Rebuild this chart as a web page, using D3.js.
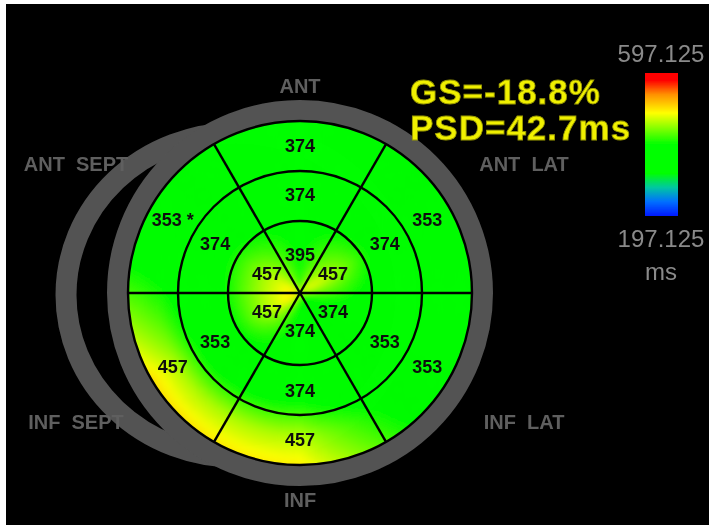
<!DOCTYPE html>
<html>
<head>
<meta charset="utf-8">
<script src="https://cdn.jsdelivr.net/npm/d3@7"></script>
<style>
body { margin: 0; background: #fff; }
svg { display: block; }
</style>
</head>
<body>
<svg id="vis"></svg>
<script>
// bullseye values in ms, sectors clockwise starting at ANT (top)
var sectors = ["ANT", "ANT  LAT", "INF  LAT", "INF", "INF  SEPT", "ANT  SEPT"];
var basal  = [374, 353, 353, 457, 457, 353];
var mid    = [374, 374, 353, 374, 353, 374];
var apical = [395, 457, 374, 374, 457, 457];
var basalMark = ["", "", "", "", "", " *"];

var scaleMin = 197.125, scaleMax = 597.125;
var scaleLabels = ["597.125", "197.125", "ms"];
var stats = ["GS=-18.8%", "PSD=42.7ms"];

var width = 709, height = 525;
var cx = 300, cy = 293;
var rInner = 72, rMid = 122, rOuter = 172;
var ringCenters = [38, 97, 142];       // where each ring's value sits (radius)
var labelRadius = [38, 98, 147];
var rings = [apical, mid, basal];

// colour map (fraction from bottom -> colour)
var cmapT = [0, 0.1, 0.2, 0.3, 0.5, 0.72, 0.85, 0.95, 1];
var cmapC = ["#0018ff", "#0070ff", "#00c8a0", "#00ff00", "#00ff00", "#ffff00", "#ff9000", "#ff0000", "#ff0000"];
var color = d3.scaleLinear()
    .domain(cmapT.map(function(t){ return scaleMin + t * (scaleMax - scaleMin); }))
    .range(cmapC)
    .interpolate(d3.interpolateRgb)
    .clamp(true);

const svg = d3.select("#vis").attr("width", width).attr("height", height);
var defs = svg.append("defs");

defs.append("filter").attr("id", "soft").attr("x", "-10%").attr("y", "-10%").attr("width", "120%").attr("height", "120%")
    .append("feGaussianBlur").attr("stdDeviation", 0.7);
defs.append("filter").attr("id", "smooth").attr("x", "-10%").attr("y", "-10%").attr("width", "120%").attr("height", "120%")
    .append("feGaussianBlur").attr("stdDeviation", 3);
defs.append("clipPath").attr("id", "disk")
    .append("circle").attr("cx", cx).attr("cy", cy).attr("r", rOuter);

var grad = defs.append("linearGradient").attr("id", "bar")
    .attr("x1", 0).attr("y1", 1).attr("x2", 0).attr("y2", 0);
cmapT.forEach(function(t, i){
    grad.append("stop").attr("offset", t).attr("stop-color", cmapC[i]);
});

// background (the picture has a thin white margin left and top)
svg.append("rect").attr("x", 6).attr("y", 4).attr("width", width - 6).attr("height", height - 4).attr("fill", "#000");

// grey outlines: back ellipse + front ring
var ringGrey = "#535353";
svg.append("ellipse").attr("cx", 236).attr("cy", cy + 2).attr("rx", 170).attr("ry", 162)
    .attr("fill", "none").attr("stroke", ringGrey).attr("stroke-width", 21).attr("filter", "url(#soft)");
svg.append("circle").attr("cx", cx).attr("cy", cy).attr("r", rOuter + 10.5)
    .attr("fill", "none").attr("stroke", ringGrey).attr("stroke-width", 21).attr("filter", "url(#soft)");

// value along a ring at angle a (deg, 0 = top, clockwise)
function sectorVal(vals, a) {
    var p = (((a % 360) + 360) % 360) / 60;
    var i0 = Math.floor(p), f = p - i0;
    return vals[i0 % 6] * (1 - f) + vals[(i0 + 1) % 6] * f;
}
// blend the rings radially, with a damped spill past the inner/outer ring
function fieldVal(r, a) {
    var v = rings.map(function(vals){ return sectorVal(vals, a); });
    var R = ringCenters, f;
    if (r <= R[0]) return v[0] + 0.8 * (v[0] - v[1]) * (R[0] - r) / (R[1] - R[0]);
    if (r <= R[1]) { f = (r - R[0]) / (R[1] - R[0]); return v[0] * (1 - f) + v[1] * f; }
    if (r <= R[2]) { f = (r - R[1]) / (R[2] - R[1]); return v[1] * (1 - f) + v[2] * f; }
    return v[2] + 0.6 * (v[2] - v[1]) * (r - R[2]) / (R[2] - R[1]);
}

// smooth colour map drawn as small polar cells
var cells = [];
var dr = 3;
for (var r = 0; r < rOuter + 2 * dr; r += dr) {
    var n = Math.max(24, Math.round(2 * Math.PI * (r + dr / 2) / 3));
    for (var k = 0; k < n; k++) {
        var a0 = k * 360 / n, a1 = (k + 1) * 360 / n;
        cells.push({r0: r, r1: r + dr, a0: a0, a1: a1, v: fieldVal(r + dr / 2, (a0 + a1) / 2)});
    }
}
var cellArc = d3.arc()
    .innerRadius(function(d){ return d.r0; })
    .outerRadius(function(d){ return d.r1; })
    .startAngle(function(d){ return d.a0 * Math.PI / 180; })
    .endAngle(function(d){ return d.a1 * Math.PI / 180; });

var field = svg.append("g").attr("clip-path", "url(#disk)")
    .append("g").attr("filter", "url(#smooth)")
    .attr("transform", "translate(" + cx + "," + cy + ")");
field.selectAll("path").data(cells).enter().append("path")
    .attr("d", cellArc)
    .attr("fill", function(d){ return color(d.v); })
    .attr("stroke", function(d){ return color(d.v); })
    .attr("stroke-width", 0.8);

// segment borders
var grid = svg.append("g").attr("transform", "translate(" + cx + "," + cy + ")")
    .attr("filter", "url(#soft)");
grid.selectAll("circle").data([rInner, rMid, rOuter]).enter().append("circle")
    .attr("r", function(d){ return d; })
    .attr("fill", "none").attr("stroke", "#000").attr("stroke-width", 2.4);
grid.selectAll("line").data(d3.range(6)).enter().append("line")
    .attr("x1", 0).attr("y1", 0)
    .attr("x2", function(i){ return rOuter * Math.sin((i * 60 + 30) * Math.PI / 180); })
    .attr("y2", function(i){ return -rOuter * Math.cos((i * 60 + 30) * Math.PI / 180); })
    .attr("stroke", "#000").attr("stroke-width", 2.4);

// segment values
var segLabels = [];
rings.forEach(function(vals, ri){
    vals.forEach(function(v, i){
        segLabels.push({ring: ri, i: i, text: v + (ri === 2 ? basalMark[i] : "")});
    });
});
grid.selectAll("text.seg").data(segLabels).enter().append("text")
    .attr("class", "seg")
    .attr("x", function(d){ return labelRadius[d.ring] * Math.sin(d.i * Math.PI / 3); })
    .attr("y", function(d){ return -labelRadius[d.ring] * Math.cos(d.i * Math.PI / 3); })
    .attr("dy", "0.36em")
    .attr("text-anchor", "middle")
    .style("font-family", "Liberation Sans, Arial, sans-serif")
    .style("font-weight", "bold")
    .style("font-size", "18px")
    .style("fill", "#111")
    .style("white-space", "pre")
    .text(function(d){ return d.text; });

// wall names around the plot
function sgn(x) { return Math.sign(Math.round(x * 100)); }
svg.append("g").attr("filter", "url(#soft)")
    .selectAll("text").data(sectors).enter().append("text")
    .attr("x", function(d, i){ return cx + 224 * sgn(Math.sin(i * Math.PI / 3)); })
    .attr("y", function(d, i){ return cy - (i % 3 === 0 ? 207 : 129) * sgn(Math.cos(i * Math.PI / 3)); })
    .attr("dy", "0.36em")
    .attr("text-anchor", "middle")
    .style("font-family", "Liberation Sans, Arial, sans-serif")
    .style("font-weight", "bold")
    .style("font-size", "20px")
    .style("fill", "#5e5e5e")
    .style("white-space", "pre")
    .text(function(d){ return d; });

// global strain / dispersion
svg.append("g").attr("filter", "url(#soft)")
    .selectAll("text").data(stats).enter().append("text")
    .attr("x", 410)
    .attr("y", function(d, i){ return 104 + i * 36; })
    .style("font-family", "Liberation Sans, Arial, sans-serif")
    .style("font-weight", "bold")
    .style("font-size", "35px")
    .style("letter-spacing", "1px")
    .style("fill", "#f0f000")
    .style("stroke", "#9a9a00")
    .style("stroke-width", 0.8)
    .text(function(d){ return d; });

// colour bar
var barY = d3.scaleLinear().domain([scaleMin, scaleMax]).range([216, 73]);
var cbar = svg.append("g").attr("filter", "url(#soft)");
cbar.append("rect").attr("x", 645).attr("y", barY(scaleMax)).attr("width", 33)
    .attr("height", barY(scaleMin) - barY(scaleMax)).attr("fill", "url(#bar)");
cbar.selectAll("text").data(scaleLabels).enter().append("text")
    .attr("x", 661)
    .attr("y", function(d, i){ return [62, 247, 280][i]; })
    .attr("text-anchor", "middle")
    .style("font-family", "Liberation Sans, Arial, sans-serif")
    .style("font-size", "24px")
    .style("fill", "#8a8a8a")
    .text(function(d){ return d; });
</script>
</body>
</html>
